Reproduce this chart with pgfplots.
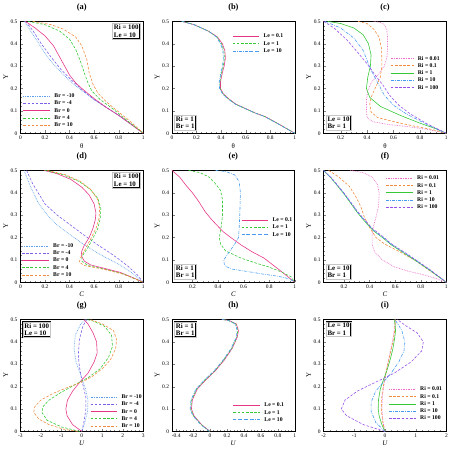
\documentclass[border=0pt]{standalone}
\usepackage{fontspec}
\setmainfont{Liberation Serif}
\usepackage{pgfplots}
\pgfplotsset{compat=1.18}
\usepgfplotslibrary{groupplots}
\definecolor{cBlue}{RGB}{95,160,235}
\definecolor{cPurple}{RGB}{125,95,230}
\definecolor{cMag}{RGB}{230,55,135}
\definecolor{cGreen}{RGB}{55,200,55}
\definecolor{cOrange}{RGB}{240,140,65}
\definecolor{cPink}{RGB}{235,110,200}
\definecolor{cSky}{RGB}{70,155,240}
\definecolor{cViolet}{RGB}{150,80,230}
\tikzset{
 sDot/.style={densely dotted, line width=0.7pt},
 sDash/.style={dash pattern=on 2.6bp off 1.6bp, line width=0.6pt},
 sDD/.style={dash pattern=on 3bp off 1.2bp on 0.6bp off 1.2bp, line width=0.6pt},
 sSol/.style={solid, line width=0.6pt},
 infobox/.style={draw=black, line width=0.35pt, double=gray!45, double distance=0.6pt, fill=white, inner sep=1.4pt, font=\fontsize{7}{7.6}\selectfont\bfseries, align=left},
}
\begin{document}
\begin{tikzpicture}
\begin{groupplot}[
 group style={group size=3 by 3, horizontal sep=29bp, vertical sep=37.5bp},
 scale only axis, width=124bp, height=113bp,
 ymin=0, ymax=0.5, ytick={0,0.1,0.2,0.3,0.4,0.5},
 /pgf/number format/assume math mode=true,
 tick label style={font=\fontsize{5.5}{6}\selectfont},
 tick align=inside, xtick pos=bottom, ytick pos=left,
 minor tick num=4, major tick length=2.8bp, minor tick length=1.5bp,
 axis line style={line width=0.6pt},
 xticklabel style={yshift=0.5bp}, yticklabel style={xshift=0.5bp},
 title style={font=\fontsize{8.5}{9}\selectfont\bfseries, yshift=1bp},
 xlabel style={font=\fontsize{7}{7.5}\selectfont, yshift=3.5bp},
 ylabel={Y}, ylabel style={font=\fontsize{7}{7.5}\selectfont, yshift=-4bp},
 legend style={draw=none, fill=none, font=\fontsize{5.8}{6.5}\selectfont\bfseries, anchor=north west, inner sep=0pt, row sep=0.3bp, nodes={inner sep=0.5bp, text height=4.6bp, text depth=1.4bp}, /tikz/every odd column/.style={column sep=3.5bp}},
 legend cell align=left,
 legend image code/.code={\draw[#1] (0bp,0bp) -- (27bp,0bp);},
]
% (a)
\nextgroupplot[title={(a)}, xmin=0, xmax=1, xtick={0,0.2,0.4,0.6,0.8,1}, xlabel={θ}, legend style={at={(axis cs:0.02,0.182)}}]
\addplot[cBlue,sDot] coordinates {(0.03,0.5)(0.08,0.46)(0.15,0.4)(0.22,0.34)(0.3,0.29)(0.4,0.235)(0.5,0.19)(0.6,0.15)(0.7,0.115)(0.8,0.08)(0.9,0.04)(1,0)};
\addplot[cPurple,sDash] coordinates {(0.04,0.5)(0.1,0.46)(0.17,0.4)(0.25,0.34)(0.33,0.285)(0.42,0.235)(0.5,0.195)(0.6,0.15)(0.7,0.115)(0.8,0.08)(0.9,0.04)(1,0)};
\addplot[cMag,sSol] coordinates {(0.04,0.5)(0.12,0.47)(0.2,0.435)(0.27,0.39)(0.32,0.34)(0.36,0.3)(0.4,0.26)(0.45,0.225)(0.5,0.2)(0.6,0.155)(0.7,0.115)(0.8,0.08)(0.9,0.04)(1,0)};
\addplot[cGreen,sDash] coordinates {(0.06,0.5)(0.2,0.485)(0.32,0.456)(0.4,0.42)(0.45,0.375)(0.49,0.32)(0.52,0.27)(0.55,0.225)(0.58,0.19)(0.65,0.15)(0.75,0.11)(0.85,0.065)(1,0)};
\addplot[cOrange,sDash] coordinates {(0.1,0.5)(0.25,0.485)(0.35,0.465)(0.45,0.43)(0.5,0.39)(0.54,0.33)(0.56,0.27)(0.59,0.22)(0.63,0.18)(0.7,0.14)(0.8,0.095)(0.9,0.05)(1,0)};
\legend{Br = -10, Br = -4, Br = 0, Br = 4, Br = 10}
\node[infobox, anchor=north east] at (rel axis cs:0.975,0.98) {Ri = 100\\Le = 10};
% (b)
\nextgroupplot[title={(b)}, xmin=0, xmax=1, xtick={0,0.2,0.4,0.6,0.8,1}, xlabel={θ}, legend style={at={(axis cs:0.49,0.449)}}]
\addplot[cMag,sSol] coordinates {(0.08,0.5)(0.18,0.485)(0.3,0.455)(0.37,0.43)(0.41,0.4)(0.43,0.37)(0.435,0.336)(0.425,0.3)(0.41,0.27)(0.395,0.23)(0.395,0.2)(0.42,0.175)(0.46,0.155)(0.52,0.13)(0.6,0.11)(0.68,0.09)(0.76,0.074)(0.84,0.05)(0.92,0.025)(1,0)};
\addplot[cGreen,sDash] coordinates {(0.08,0.5)(0.18,0.485)(0.3,0.455)(0.365,0.43)(0.403,0.4)(0.422,0.37)(0.427,0.336)(0.418,0.3)(0.404,0.27)(0.39,0.23)(0.391,0.2)(0.416,0.175)(0.456,0.155)(0.517,0.13)(0.598,0.11)(0.678,0.09)(0.758,0.074)(0.838,0.05)(0.92,0.025)(1,0)};
\addplot[cSky,sDD] coordinates {(0.08,0.5)(0.18,0.485)(0.3,0.455)(0.36,0.43)(0.396,0.4)(0.414,0.37)(0.419,0.336)(0.411,0.3)(0.398,0.27)(0.385,0.23)(0.387,0.2)(0.412,0.175)(0.452,0.155)(0.514,0.13)(0.596,0.11)(0.676,0.09)(0.756,0.074)(0.836,0.05)(0.918,0.025)(1,0)};
\legend{Le = 0.1, Le = 1, Le = 10}
\node[infobox, anchor=south west] at (rel axis cs:0.02,0.025) {Ri = 1\\Br = 1};
% (c)
\nextgroupplot[title={(c)}, xmin=0.07, xmax=1, xtick={0.2,0.4,0.6,0.8,1}, xlabel={θ}, legend image code/.code={\draw[#1] (0bp,0bp) -- (23bp,0bp);}, legend style={at={(axis cs:0.575,0.35)}}]
\addplot[cPink,sDot] coordinates {(0.45,0.5)(0.5,0.495)(0.53,0.487)(0.548,0.465)(0.555,0.43)(0.555,0.38)(0.55,0.34)(0.53,0.3)(0.48,0.26)(0.43,0.225)(0.405,0.19)(0.395,0.15)(0.395,0.1)(0.4,0.07)(0.44,0.052)(0.55,0.04)(0.7,0.03)(0.85,0.018)(1,0)};
\addplot[cOrange,sDash] coordinates {(0.33,0.5)(0.4,0.49)(0.45,0.465)(0.49,0.43)(0.51,0.375)(0.512,0.3)(0.5,0.25)(0.46,0.2)(0.43,0.16)(0.42,0.13)(0.43,0.095)(0.48,0.07)(0.545,0.06)(0.65,0.045)(0.77,0.03)(0.88,0.018)(1,0)};
\addplot[cGreen,sSol] coordinates {(0.1,0.5)(0.2,0.49)(0.3,0.47)(0.37,0.44)(0.41,0.4)(0.43,0.35)(0.425,0.3)(0.405,0.25)(0.395,0.2)(0.42,0.16)(0.5,0.12)(0.65,0.08)(0.8,0.045)(0.92,0.02)(1,0)};
\addplot[cSky,sDD] coordinates {(0.08,0.5)(0.2,0.47)(0.3,0.425)(0.37,0.37)(0.41,0.31)(0.44,0.27)(0.49,0.215)(0.53,0.17)(0.6,0.125)(0.7,0.085)(0.85,0.04)(1,0)};
\addplot[cViolet,sDash] coordinates {(0.07,0.5)(0.15,0.47)(0.25,0.415)(0.33,0.36)(0.4,0.31)(0.46,0.26)(0.52,0.215)(0.57,0.17)(0.64,0.125)(0.73,0.085)(0.86,0.04)(1,0)};
\legend{Ri = 0.01, Ri = 0.1, Ri = 1, Ri = 10, Ri = 100}
\node[infobox, anchor=south west] at (rel axis cs:0.02,0.025) {Le = 10\\Br = 1};
% (d)
\nextgroupplot[title={(d)}, xmin=0, xmax=1, xtick={0,0.2,0.4,0.6,0.8,1}, xlabel={\textit{C}}, legend style={at={(axis cs:0.01,0.179)}}]
\addplot[cBlue,sDot] coordinates {(0.03,0.5)(0.08,0.43)(0.15,0.35)(0.22,0.3)(0.3,0.255)(0.41,0.21)(0.5,0.175)(0.57,0.15)(0.68,0.115)(0.81,0.078)(0.9,0.045)(1,0)};
\addplot[cPurple,sDash] coordinates {(0.05,0.5)(0.1,0.44)(0.2,0.35)(0.3,0.3)(0.41,0.255)(0.52,0.21)(0.63,0.167)(0.72,0.135)(0.79,0.108)(0.88,0.07)(0.95,0.034)(1,0)};
\addplot[cMag,sSol] coordinates {(0.19,0.5)(0.3,0.485)(0.41,0.46)(0.5,0.425)(0.56,0.39)(0.6,0.35)(0.615,0.31)(0.61,0.28)(0.59,0.24)(0.56,0.2)(0.52,0.165)(0.5,0.14)(0.495,0.12)(0.52,0.095)(0.57,0.078)(0.7,0.06)(0.81,0.045)(0.92,0.02)(1,0)};
\addplot[cGreen,sDash] coordinates {(0.2,0.5)(0.35,0.48)(0.48,0.45)(0.57,0.415)(0.63,0.375)(0.655,0.33)(0.65,0.285)(0.63,0.24)(0.59,0.197)(0.55,0.155)(0.5,0.115)(0.5,0.095)(0.55,0.075)(0.71,0.056)(0.85,0.035)(1,0)};
\addplot[cOrange,sDash] coordinates {(0.22,0.5)(0.37,0.48)(0.49,0.45)(0.57,0.415)(0.625,0.375)(0.645,0.33)(0.64,0.285)(0.615,0.24)(0.575,0.197)(0.53,0.15)(0.49,0.11)(0.48,0.09)(0.52,0.075)(0.68,0.058)(0.84,0.036)(1,0)};
\legend{Br = -10, Br = -4, Br = 0, Br = 4, Br = 10}
\node[infobox, anchor=north east] at (rel axis cs:0.975,0.98) {Ri = 100\\Le = 10};
% (e)
\nextgroupplot[title={(e)}, xmin=0.04, xmax=1, xtick={0.2,0.4,0.6,0.8,1}, xlabel={\textit{C}}, legend style={at={(axis cs:0.58,0.294)}}]
\addplot[cMag,sSol] coordinates {(0.04,0.5)(0.1,0.47)(0.15,0.433)(0.2,0.4)(0.25,0.36)(0.3,0.315)(0.35,0.28)(0.44,0.226)(0.5,0.2)(0.58,0.167)(0.67,0.135)(0.76,0.108)(0.88,0.055)(1,0)};
\addplot[cGreen,sDash] coordinates {(0.17,0.5)(0.26,0.49)(0.33,0.47)(0.38,0.44)(0.42,0.41)(0.435,0.37)(0.435,0.3)(0.425,0.25)(0.41,0.2)(0.42,0.17)(0.46,0.14)(0.58,0.108)(0.7,0.085)(0.79,0.07)(0.9,0.045)(0.97,0.025)(1,0)};
\addplot[cSky,sDD] coordinates {(0.38,0.5)(0.46,0.495)(0.53,0.48)(0.565,0.45)(0.575,0.4)(0.57,0.3)(0.565,0.24)(0.56,0.2)(0.53,0.17)(0.48,0.13)(0.445,0.1)(0.45,0.075)(0.5,0.06)(0.61,0.05)(0.75,0.037)(0.87,0.027)(0.96,0.015)(1,0)};
\legend{Le = 0.1, Le = 1, Le = 10}
\node[infobox, anchor=south west] at (rel axis cs:0.02,0.025) {Ri = 1\\Br = 1};
% (f)
\nextgroupplot[title={(f)}, xmin=0.04, xmax=1, xtick={0.2,0.4,0.6,0.8,1}, xlabel={\textit{C}}, legend style={at={(axis cs:0.525,0.481)}}]
\addplot[cPink,sDot] coordinates {(0.25,0.5)(0.35,0.49)(0.42,0.47)(0.46,0.44)(0.475,0.4)(0.47,0.34)(0.45,0.29)(0.43,0.25)(0.42,0.21)(0.42,0.17)(0.44,0.135)(0.5,0.1)(0.59,0.07)(0.7,0.05)(0.82,0.034)(0.92,0.017)(1,0)};
\addplot[cOrange,sDash] coordinates {(0.08,0.5)(0.16,0.47)(0.24,0.43)(0.29,0.385)(0.33,0.34)(0.36,0.29)(0.4,0.245)(0.45,0.2)(0.52,0.17)(0.64,0.135)(0.75,0.1)(0.85,0.06)(1,0)};
\addplot[cGreen,sSol] coordinates {(0.04,0.5)(0.1,0.465)(0.15,0.43)(0.2,0.395)(0.25,0.355)(0.3,0.315)(0.35,0.28)(0.43,0.23)(0.5,0.2)(0.57,0.167)(0.67,0.13)(0.77,0.093)(0.88,0.05)(1,0)};
\addplot[cSky,sDD] coordinates {(0.04,0.5)(0.1,0.466)(0.15,0.432)(0.2,0.397)(0.25,0.358)(0.3,0.318)(0.35,0.283)(0.43,0.233)(0.5,0.203)(0.57,0.17)(0.67,0.133)(0.77,0.095)(0.88,0.052)(1,0)};
\addplot[cViolet,sDash] coordinates {(0.04,0.5)(0.1,0.467)(0.15,0.434)(0.2,0.399)(0.25,0.36)(0.3,0.321)(0.35,0.286)(0.43,0.236)(0.5,0.206)(0.57,0.172)(0.67,0.135)(0.77,0.097)(0.88,0.053)(1,0)};
\legend{Ri = 0.01, Ri = 0.1, Ri = 1, Ri = 10, Ri = 100}
\node[infobox, anchor=south west] at (rel axis cs:0.02,0.025) {Le = 10\\Br = 1};
% (g)
\nextgroupplot[title={(g)}, xmin=-3, xmax=3, xtick={-3,-2,-1,0,1,2,3}, xlabel={\textit{U}}, legend style={at={(axis cs:0.4,0.17)}}]
\addplot[cBlue,sDot] coordinates {(0,0)(0.15,0.04)(0.28,0.09)(0.3,0.14)(0.18,0.19)(-0.05,0.25)(-0.28,0.31)(-0.38,0.37)(-0.32,0.43)(-0.05,0.48)(0.2,0.5)};
\addplot[cPurple,sDash] coordinates {(0,0)(0.1,0.04)(0.2,0.1)(0.2,0.15)(0.1,0.19)(0,0.23)(-0.12,0.29)(-0.17,0.34)(-0.12,0.41)(0.05,0.47)(0.24,0.5)};
\addplot[cMag,sSol] coordinates {(0,0)(-0.45,0.03)(-0.72,0.07)(-0.78,0.1)(-0.7,0.14)(-0.45,0.18)(-0.1,0.22)(0.3,0.26)(0.6,0.31)(0.75,0.35)(0.72,0.4)(0.55,0.44)(0.3,0.48)(0.1,0.5)};
\addplot[cGreen,sDash] coordinates {(-0.1,0)(-1.0,0.02)(-1.7,0.05)(-1.95,0.085)(-1.9,0.11)(-1.6,0.14)(-1.0,0.175)(-0.3,0.21)(0.3,0.24)(0.9,0.28)(1.3,0.33)(1.5,0.38)(1.45,0.43)(1.1,0.47)(0.5,0.495)(0.2,0.5)};
\addplot[cOrange,sDash] coordinates {(-0.2,0)(-0.9,0.01)(-1.6,0.03)(-2.1,0.055)(-2.35,0.085)(-2.3,0.11)(-2.0,0.14)(-1.4,0.17)(-0.6,0.2)(0,0.22)(0.5,0.245)(1.0,0.28)(1.4,0.32)(1.65,0.37)(1.7,0.41)(1.55,0.45)(1.0,0.48)(0.4,0.5)};
\legend{Br = -10, Br = -4, Br = 0, Br = 4, Br = 10}
\node[infobox, anchor=north west] at (rel axis cs:0.02,0.98) {Ri = 100\\Le = 10};
% (h)
\nextgroupplot[title={(h)}, xmin=-0.45, xmax=1, xtick={-0.4,-0.2,0,0.2,0.4,0.6,0.8,1}, xlabel={\textit{U}}, legend style={at={(axis cs:0.27,0.133)}}]
\addplot[cMag,sSol] coordinates {(0,0)(-0.1,0.03)(-0.19,0.07)(-0.22,0.1)(-0.21,0.14)(-0.15,0.19)(-0.05,0.23)(0.06,0.27)(0.17,0.32)(0.26,0.37)(0.32,0.42)(0.335,0.45)(0.31,0.48)(0.22,0.496)(0.14,0.5)};
\addplot[cGreen,sDash] coordinates {(-0.005,0)(-0.105,0.03)(-0.197,0.07)(-0.228,0.1)(-0.218,0.14)(-0.158,0.19)(-0.058,0.23)(0.053,0.27)(0.163,0.32)(0.254,0.37)(0.315,0.42)(0.327,0.45)(0.303,0.48)(0.215,0.496)(0.14,0.5)};
\addplot[cSky,sDD] coordinates {(-0.01,0)(-0.11,0.03)(-0.204,0.07)(-0.236,0.1)(-0.226,0.14)(-0.166,0.19)(-0.066,0.23)(0.046,0.27)(0.156,0.32)(0.247,0.37)(0.308,0.42)(0.32,0.45)(0.296,0.48)(0.21,0.496)(0.14,0.5)};
\legend{Le = 0.1, Le = 1, Le = 10}
\node[infobox, anchor=north west] at (rel axis cs:0.02,0.98) {Ri = 1\\Br = 1};
% (i)
\nextgroupplot[title={(i)}, xmin=-2, xmax=2, xtick={-2,-1,0,1,2}, xlabel={\textit{U}}, legend style={at={(axis cs:0.12,0.204)}}]
\addplot[cPink,sDot] coordinates {(0,0)(-0.06,0.04)(-0.1,0.1)(-0.08,0.16)(-0.02,0.22)(0.06,0.28)(0.15,0.34)(0.24,0.4)(0.3,0.45)(0.32,0.48)(0.35,0.5)};
\addplot[cOrange,sDash] coordinates {(0,0)(-0.07,0.04)(-0.12,0.1)(-0.1,0.16)(-0.03,0.22)(0.06,0.28)(0.16,0.34)(0.26,0.4)(0.32,0.45)(0.33,0.48)(0.35,0.5)};
\addplot[cGreen,sSol] coordinates {(0,0)(-0.1,0.03)(-0.19,0.07)(-0.22,0.1)(-0.21,0.14)(-0.15,0.19)(-0.05,0.23)(0.06,0.27)(0.17,0.32)(0.26,0.37)(0.32,0.42)(0.345,0.45)(0.33,0.48)(0.3,0.5)};
\addplot[cSky,sDD] coordinates {(0,0)(-0.3,0.04)(-0.45,0.09)(-0.45,0.13)(-0.3,0.18)(-0.05,0.22)(0.2,0.26)(0.45,0.31)(0.62,0.36)(0.65,0.4)(0.55,0.45)(0.42,0.48)(0.32,0.5)};
\addplot[cViolet,sDash] coordinates {(0,0)(-0.7,0.03)(-1.25,0.07)(-1.42,0.1)(-1.3,0.14)(-0.9,0.18)(-0.3,0.22)(0.3,0.26)(0.85,0.31)(1.2,0.36)(1.25,0.4)(1.05,0.44)(0.7,0.47)(0.4,0.5)};
\legend{Ri = 0.01, Ri = 0.1, Ri = 1, Ri = 10, Ri = 100}
\node[infobox, anchor=north west] at (rel axis cs:0.02,0.98) {Le = 10\\Br = 1};
\end{groupplot}
\end{tikzpicture}
\end{document}
